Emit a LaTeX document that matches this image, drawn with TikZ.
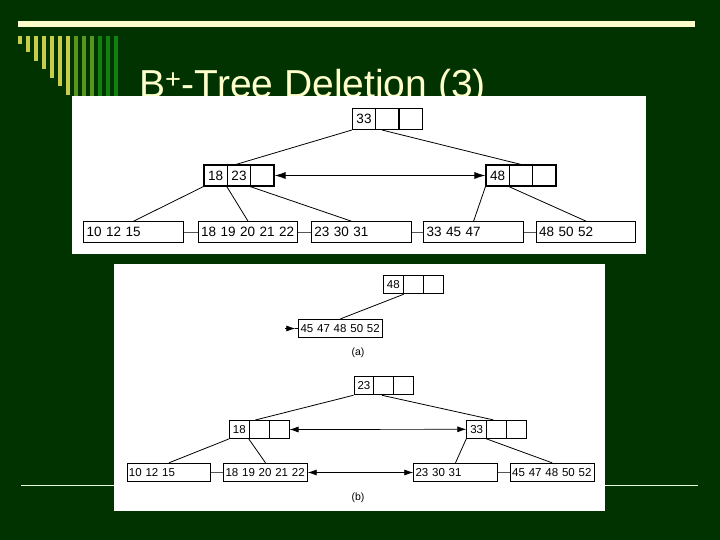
\documentclass[tikz,border=0pt]{standalone}
\usepackage{fontspec}
\setmainfont{Liberation Sans}
\usetikzlibrary{arrows.meta}
\definecolor{bg}{HTML}{003300}
\definecolor{pale}{HTML}{FFFFCC}
\definecolor{stripeA}{HTML}{C8CC48}
\definecolor{stripeB}{HTML}{5A961E}
\definecolor{stripeC}{HTML}{108210}
\definecolor{rulecol}{HTML}{E6FFE0}
\definecolor{linkgray}{HTML}{555555}
\tikzset{
  cellT/.style={draw, line width=1.1pt, minimum width=23.33pt, minimum height=21pt, inner sep=0pt, font=\fontsize{13.5}{15}\selectfont},
  leafT/.style={draw, line width=1.1pt, anchor=west, minimum width=99.5pt, minimum height=20.6pt, inner sep=0pt, text width=94pt, align=left, font=\fontsize{13.5}{15}\selectfont},
  cellB/.style={draw, line width=0.9pt, minimum width=19.9pt, minimum height=18pt, inner sep=0pt, font=\fontsize{11.5}{13}\selectfont},
  leafB/.style={draw, line width=0.9pt, anchor=west, minimum width=83.5pt, minimum height=18.4pt, inner sep=0pt, text width=80pt, align=left, font=\fontsize{11.5}{13}\selectfont},
  treeline/.style={line width=0.8pt},
  sib/.style={draw=linkgray, line width=0.9pt},
  biT/.style={{Latex[length=11pt,width=7pt]}-{Latex[length=11pt,width=7pt]}, line width=0.8pt},
  biB/.style={{Latex[length=9pt,width=6pt]}-{Latex[length=9pt,width=6pt]}, line width=0.7pt},
  figlabel/.style={font=\fontsize{10.5}{12}\selectfont, inner sep=0pt}
}
\begin{document}
\begin{tikzpicture}[x=1pt,y=-1pt]
\path[use as bounding box, fill=bg] (0,0) rectangle (720,540);
% top bar
\fill[pale] (18,21) rectangle (695,27.5);
% stripes
\foreach \i in {0,...,6} {
  \fill[stripeA] ({18+8*\i},35.7) rectangle ({22.3+8*\i},{44+8.5*\i});
}
\foreach \i in {7,8,9} {
  \fill[stripeB] ({18+8*\i},35.7) rectangle ({22.3+8*\i},100);
}
\foreach \i in {10,11,12} {
  \fill[stripeC] ({18+8*\i},35.7) rectangle ({22.3+8*\i},100);
}
% bottom rule
\draw[rulecol, line width=1.5pt] (21,485.3) -- (698,485.3);
% title
\node[anchor=base west, text=pale, inner sep=0pt, font=\fontsize{39}{44}\selectfont] (title) at (139,98) {B\textsuperscript{+}-Tree Deletion (3)};
% white panels
\fill[white] (72,96) rectangle (646,254);
\fill[white] (114,264) rectangle (605,511);

% ===== top figure =====
\node[cellT] (r1) at (364,119) {33};
\node[cellT] (r2) at (387.33,119) {};
\node[cellT] (r3) at (410.66,119) {};
\node[cellT] (L1) at (215.7,175.5) {18};
\node[cellT] (L2) at (239,175.5) {23};
\node[cellT] (L3) at (262.3,175.5) {};
\node[cellT] (R1) at (497.7,175.5) {48};
\node[cellT] (R2) at (521,175.5) {};
\node[cellT] (R3) at (544.3,175.5) {};
\node[leafT] (f1) at (83.3,232) {10 12 15};
\node[leafT] (f2) at (197.7,232) {18 19 20 21 22};
\node[leafT] (f3) at (311,232) {23 30 31};
\node[leafT] (f4) at (423.3,232) {33 45 47};
\node[leafT] (f5) at (535.7,232) {48 50 52};
\draw[treeline] (r1.south west) -- ([xshift=-3pt]L2.north);
\draw[treeline] ([xshift=7pt]r2.south west) -- (R2.north);
\draw[treeline] (L1.south west) -- (f1.north);
\draw[treeline] (L2.south west) -- (f2.north);
\draw[treeline] (L3.south west) -- ([xshift=-10pt]f3.north);
\draw[treeline] (R1.south west) -- (f4.north);
\draw[treeline] (R2.south west) -- (f5.north);
\draw[biT] (L3.east) -- (R1.west);
\draw[sib] (f1.east) -- (f2.west);
\draw[sib] (f2.east) -- (f3.west);
\draw[sib] (f3.east) -- (f4.west);
\draw[sib] (f4.east) -- (f5.west);

% ===== bottom figure (a) =====
\node[cellB] (a1) at (393.3,284.8) {48};
\node[cellB] (a2) at (413.2,284.8) {};
\node[cellB] (a3) at (433.1,284.8) {};
\node[leafB] (la) at (298.3,328.5) {45 47 48 50 52};
\draw[treeline] (a1.south east) -- (la.north);
\coordinate (atail) at (285,328.5);
\draw[line width=0.7pt, -{Latex[length=9pt,width=6pt]}] (atail) -- ([xshift=-3pt]la.west);
\draw[line width=0.7pt] ([xshift=-3pt]la.west) -- (la.west);
\node[figlabel] (laba) at (358,353) {(a)};

% ===== bottom figure (b) =====
\node[cellB] (b1) at (363.9,385.8) {23};
\node[cellB] (b2) at (383.8,385.8) {};
\node[cellB] (b3) at (403.7,385.8) {};
\node[cellB] (c1) at (239.3,429.5) {18};
\node[cellB] (c2) at (259.2,429.5) {};
\node[cellB] (c3) at (279.1,429.5) {};
\node[cellB] (d1) at (476.7,429.3) {33};
\node[cellB] (d2) at (496.6,429.3) {};
\node[cellB] (d3) at (516.5,429.3) {};
\node[leafB] (g1) at (126.7,472.5) {10 12 15};
\node[leafB] (g2) at (223.3,472.5) {18 19 20 21 22};
\node[leafB] (g3) at (413.3,472.5) {23 30 31};
\node[leafB] (g4) at (510,472.5) {45 47 48 50 52};
\draw[treeline] (b1.south west) -- ([xshift=-4pt]c2.north);
\draw[treeline] ([xshift=-2pt]b2.south) -- ([xshift=-3.4pt]d2.north);
\draw[treeline] (c1.south west) -- (g1.north);
\draw[treeline] (c2.south west) -- (g2.north);
\draw[treeline] (d1.south west) -- (g3.north);
\draw[treeline] (d2.south west) -- (g4.north);
\draw[biB] (c3.east) -- (d1.west);
\draw[biB] (g2.east) -- (g3.west);
\draw[sib] (g1.east) -- (g2.west);
\draw[sib] (g3.east) -- (g4.west);
\node[figlabel] (labb) at (358,498) {(b)};
\end{tikzpicture}
\end{document}
